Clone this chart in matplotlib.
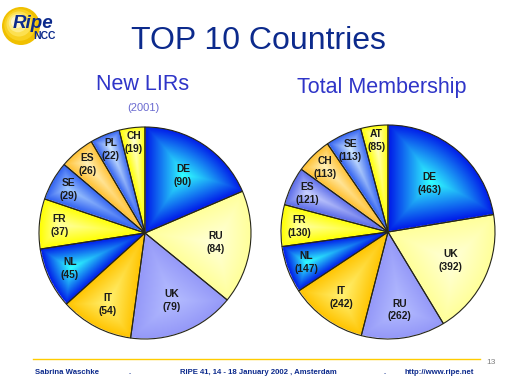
import matplotlib
matplotlib.use("Agg")
import matplotlib.pyplot as plt
import numpy as np

plt.rcParams["font.family"] = ["Liberation Sans", "DejaVu Sans"]

# --- data ---------------------------------------------------------------
lir_countries = ["DE", "RU", "UK", "IT", "NL", "FR", "SE", "ES", "PL", "CH"]
lir_values = [90, 84, 79, 54, 45, 37, 29, 26, 22, 19]

member_countries = ["DE", "UK", "RU", "IT", "NL", "FR", "ES", "CH", "SE", "AT"]
member_values = [463, 392, 262, 242, 147, 130, 121, 113, 113, 85]

# (edge colour, centre colour) for the shaded wedges
lir_colors = [("#0018e8", "#30ffff"), ("#ffff99", "#ffffd8"),
              ("#9498f8", "#b4bcff"), ("#ffc400", "#fff070"),
              ("#0018e8", "#30ffff"), ("#ffff00", "#ffffa0"),
              ("#3060f0", "#a0c8ff"), ("#ffc030", "#fff0b8"),
              ("#3060f0", "#d0e8ff"), ("#ffff00", "#ffffd0")]
member_colors = [("#0018e8", "#30ffff"), ("#ffff99", "#ffffd8"),
                 ("#9498f8", "#b4bcff"), ("#ffc400", "#fff070"),
                 ("#0018e8", "#30ffff"), ("#ffff00", "#ffffa0"),
                 ("#5a6ae8", "#c8d0ff"), ("#ffc030", "#fff0b8"),
                 ("#3060f0", "#d0e8ff"), ("#ffff00", "#ffffd0")]

NAVY = "#0c2a8c"
TITLE_BLUE = "#2f35c8"

W, H = 512, 384
fig = plt.figure(figsize=(W / 100, H / 100), dpi=100)
fig.patch.set_facecolor("white")

# background axes in pixel units for titles / logo / footer
bg = fig.add_axes([0, 0, 1, 1])
bg.set_xlim(0, W)
bg.set_ylim(H, 0)
bg.axis("off")

LIM = 1.03
N = 360
gx = np.linspace(-LIM, LIM, N)
GX, GY = np.meshgrid(gx, gx[::-1])
GR = np.hypot(GX, GY)
GPHI = np.degrees(np.arctan2(GY, GX))


def shaded_pie(cx, cy, rad, labels, values, colors):
    half = rad * LIM
    ax = fig.add_axes([(cx - half) / W, (H - cy - half) / H,
                       2 * half / W, 2 * half / H])
    wedges, _ = ax.pie(values, startangle=90, counterclock=False, radius=1,
                       wedgeprops=dict(linewidth=0.8, edgecolor="#262618"))
    total = float(sum(values))
    for w, lab, val, (c_edge, c_mid) in zip(wedges, labels, values, colors):
        t1, t2 = w.theta1, w.theta2
        phi = (GPHI - t1) % 360
        span = t2 - t1
        inside = (phi <= span) & (GR <= 1)
        # distance to the wedge outline -> "path" gradient, dark rim, bright core
        d1 = GR * np.sin(np.radians(np.clip(phi, 0, 90)))
        d2 = GR * np.sin(np.radians(np.clip(span - phi, 0, 90)))
        d3 = 1 - GR
        d = np.minimum(np.minimum(d1, d2), d3)
        d = np.where(inside, d, 0)
        t = d / max(d.max(), 1e-6)
        e = np.array(matplotlib.colors.to_rgb(c_edge))
        m = np.array(matplotlib.colors.to_rgb(c_mid))
        img = e + (m - e) * t[..., None]
        rgba = np.dstack([img, inside.astype(float)])
        im = ax.imshow(rgba, extent=(-LIM, LIM, -LIM, LIM), zorder=1,
                       interpolation="bilinear")
        im.set_clip_path(w)
        w.set_facecolor("none")
        w.set_zorder(2)
        frac = val / total
        mid = np.radians((t1 + t2) / 2)
        r_lab = 0.92 - 1.45 * frac
        ax.text(r_lab * np.cos(mid), r_lab * np.sin(mid), f"{lab}\n({val})",
                ha="center", va="center", fontsize=7.4, fontweight="bold",
                color="#1a1a1a", linespacing=1.35, zorder=3)
    ax.set_xlim(-LIM, LIM)
    ax.set_ylim(-LIM, LIM)
    ax.axis("off")
    return ax


shaded_pie(145, 233, 106, lir_countries, lir_values, lir_colors)
shaded_pie(388, 232, 107, member_countries, member_values, member_colors)

# --- titles ---------------------------------------------------------------
bg.text(258, 41, "TOP 10 Countries", ha="center", va="center",
        fontsize=23, color=NAVY)
bg.text(143, 85, "New LIRs", ha="center", va="center",
        fontsize=15.5, color=TITLE_BLUE)
bg.text(143, 108, "(2001)", ha="center", va="center",
        fontsize=8, color="#6a6ad0")
bg.text(382, 87, "Total Membership", ha="center", va="center",
        fontsize=15.5, color=TITLE_BLUE)

# --- logo -----------------------------------------------------------------
for k, c in enumerate(["#f0c000", "#f8d020", "#fce050", "#fdec88", "#fff6c8"]):
    r = 19 * (1 - 0.17 * k)
    off = k
    bg.add_patch(plt.Circle((21 - off, 26 - off), r, color=c, lw=0, zorder=1))
bg.text(13, 23, "Ripe", fontsize=13.5, fontweight="bold", style="italic",
        color=NAVY, va="center", ha="left", zorder=2)
bg.text(33, 36, "NCC", fontsize=7.5, fontweight="bold", color=NAVY,
        va="center", ha="left", zorder=2)

# --- footer ---------------------------------------------------------------
bg.plot([33, 480], [359, 359], color="#ffcc00", lw=1.0)
bg.text(486, 363, "13", fontsize=6, color="#808080", va="center")
foot = dict(fontsize=5.6, fontweight="bold", color=NAVY, va="center")
bg.text(35, 372, "Sabrina Waschke", ha="left", **foot)
bg.text(130, 372, ".", ha="center", **foot)
bg.text(180, 372, "RIPE 41, 14 - 18 January 2002 , Amsterdam", ha="left", **foot)
bg.text(385, 372, ".", ha="center", **foot)
bg.text(474, 372, "http://www.ripe.net", ha="right", **foot)

fig.savefig("out.png", dpi=100)
